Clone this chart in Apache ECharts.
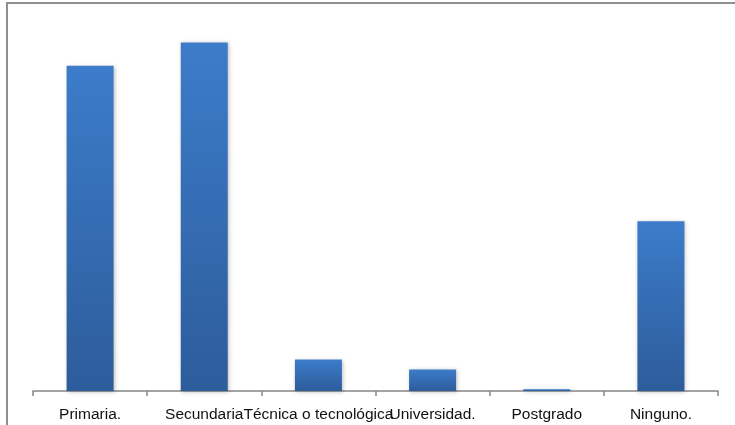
<!DOCTYPE html>
<html>
<head>
<meta charset="utf-8">
<script src="https://cdn.jsdelivr.net/npm/echarts@6/dist/echarts.min.js"></script>
<style>
  html, body { margin: 0; padding: 0; background: #fff; }
  #chart { width: 735px; height: 425px; }
</style>
</head>
<body>
<div id="chart"></div>
<script>
  // nivel educativo (%)
  var categories = ['Primaria.', 'Secundaria', 'Técnica o tecnológica', 'Universidad.', 'Postgrado', 'Ninguno.']
  var values = [36.2, 38.8, 3.5, 2.4, 0.2, 18.9]
  var yMax = 40

  var chart = echarts.init(document.getElementById('chart'))
  chart.setOption({
    backgroundColor: '#ffffff',
    animation: false,
    grid: {
      left: 33,
      right: 17,
      top: 31.6,
      bottom: 34
    },
    graphic: [{
      type: 'rect',
      shape: { x: 7, y: 3, width: 740, height: 440 },
      style: { fill: 'none', stroke: '#8f8f8f', lineWidth: 2 },
      silent: true
    }],
    xAxis: {
      type: 'category',
      data: categories,
      axisLine: { lineStyle: { color: '#878787', width: 1.5 } },
      axisTick: { show: true, length: 5, lineStyle: { color: '#878787', width: 1.5 } },
      axisLabel: {
        interval: 0,
        color: '#111',
        fontFamily: '"Liberation Sans", Arial, sans-serif',
        fontSize: 15.5,
        margin: 16
      }
    },
    yAxis: {
      type: 'value',
      min: 0,
      max: yMax,
      show: false
    },
    series: [{
      type: 'bar',
      data: values,
      barWidth: 47,
      itemStyle: {
        color: new echarts.graphic.LinearGradient(0, 0, 0, 1, [
          { offset: 0, color: '#3c7cca' },
          { offset: 1, color: '#2d5c9b' }
        ]),
        shadowColor: 'rgba(0,0,0,0.25)',
        shadowBlur: 4,
        shadowOffsetX: 1,
        shadowOffsetY: 1
      }
    }]
  })
</script>
</body>
</html>
